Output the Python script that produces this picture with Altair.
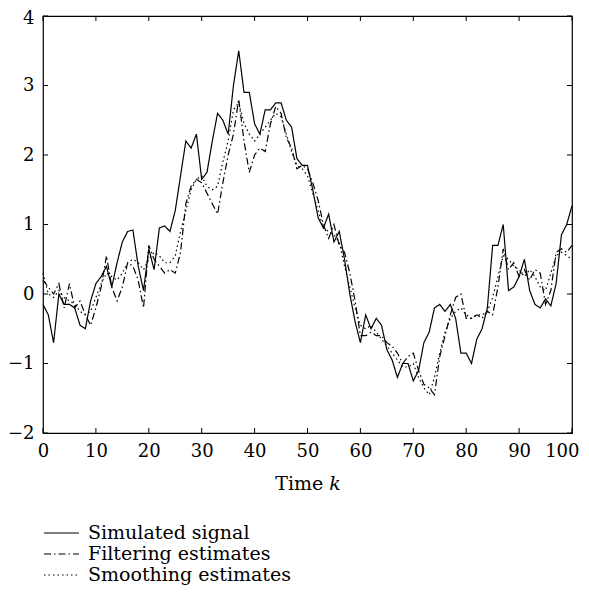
import altair as alt
import pandas as pd

k = list(range(101))

signal = [-0.15, -0.3, -0.7, 0.0, -0.15, -0.15, -0.2, -0.45, -0.5, -0.1,
          0.15, 0.25, 0.4, 0.1, 0.45, 0.75, 0.9, 0.92, 0.4, 0.05,
          0.65, 0.35, 0.95, 0.98, 0.9, 1.2, 1.7, 2.2, 2.1, 2.3,
          1.65, 1.75, 2.2, 2.6, 2.5, 2.3, 3.0, 3.5, 2.9, 2.9,
          2.45, 2.3, 2.65, 2.65, 2.75, 2.75, 2.5, 2.4, 1.95, 1.85,
          1.85, 1.5, 1.1, 0.95, 1.15, 0.75, 0.9, 0.5, 0.0, -0.4,
          -0.7, -0.3, -0.5, -0.35, -0.45, -0.8, -0.95, -1.2, -1.0, -1.0,
          -1.25, -1.1, -0.7, -0.55, -0.2, -0.15, -0.25, -0.15, -0.35, -0.85,
          -0.85, -1.0, -0.65, -0.5, -0.2, 0.7, 0.7, 1.0, 0.05, 0.1,
          0.25, 0.5, 0.05, -0.15, -0.2, -0.07, -0.17, 0.15, 0.85, 1.0, 1.27]

filtering = [0.2, 0.1, 0.0, 0.15, -0.2, 0.15, -0.2, -0.1, -0.3, -0.45,
             -0.2, 0.1, 0.55, 0.1, -0.1, 0.1, 0.45, 0.4, 0.2, -0.2,
             0.7, 0.5, 0.4, 0.3, 0.35, 0.3, 0.6, 1.3, 1.55, 1.65,
             1.6, 1.45, 1.3, 1.15, 1.6, 2.0, 2.3, 2.8, 2.2, 1.75,
             2.0, 2.1, 2.05, 2.45, 2.7, 2.6, 2.25, 2.1, 1.8, 1.85,
             1.8, 1.6, 1.35, 1.0, 0.8, 1.0, 0.7, 0.6, 0.3, -0.1,
             -0.6, -0.6, -0.55, -0.6, -0.6, -0.7, -0.75, -0.85, -1.0, -0.9,
             -0.85, -1.1, -1.3, -1.35, -1.45, -0.9, -0.6, -0.3, -0.05, 0.0,
             -0.35, -0.35, -0.3, -0.35, -0.25, -0.3, 0.1, 0.65, 0.35, 0.45,
             0.25, 0.35, 0.2, 0.35, 0.3, -0.15, 0.05, 0.6, 0.65, 0.6, 0.7]

smoothing = [0.3, 0.0, -0.05, 0.05, -0.05, -0.1, -0.15, -0.25, -0.3, -0.25,
             -0.05, 0.15, 0.3, 0.25, 0.2, 0.3, 0.45, 0.5, 0.45, 0.35,
             0.5, 0.6, 0.55, 0.45, 0.45, 0.55, 0.9, 1.2, 1.5, 1.65,
             1.7, 1.55, 1.5, 1.55, 1.9, 2.2, 2.65, 2.75, 2.45, 2.3,
             2.2, 2.3, 2.4, 2.5, 2.6, 2.55, 2.3, 2.05, 1.85, 1.8,
             1.7, 1.45, 1.2, 0.95, 0.9, 0.85, 0.75, 0.4, 0.1, -0.2,
             -0.45, -0.5, -0.45, -0.55, -0.65, -0.75, -0.85, -0.95, -1.05, -1.05,
             -1.0, -1.2, -1.35, -1.45, -1.2, -0.85, -0.55, -0.35, -0.25, -0.2,
             -0.3, -0.35, -0.3, -0.3, -0.25, -0.05, 0.25, 0.55, 0.5, 0.4,
             0.35, 0.25, 0.35, 0.25, 0.1, 0.05, 0.3, 0.55, 0.6, 0.55, 0.5]

series_names = ["Simulated signal", "Filtering estimates", "Smoothing estimates"]
x_ticks = [0, 10, 20, 30, 40, 50, 60, 70, 80, 90, 100]
y_ticks = [-2, -1, 0, 1, 2, 3, 4]

FONT = "DejaVu Serif"
FS = 19
TICK_FS = 18

rows = []
for name, vals in zip(series_names, [signal, filtering, smoothing]):
    for kk, v in zip(k, vals):
        rows.append({"k": kk, "value": v, "series": name})
df = pd.DataFrame(rows)

xs = alt.Scale(domain=[0, 100], nice=False, zero=False)
ys = alt.Scale(domain=[-2, 4], nice=False, zero=False)

last_label_align = {"condition": {"test": "datum.value == 100", "value": "right"}, "value": "center"}
last_label_offset = {"condition": {"test": "datum.value == 100", "value": 7}, "value": 0}
top_label_offset = {"condition": {"test": "datum.value == 4", "value": 2}, "value": 0}

lines = alt.Chart(df).mark_line(color="black", strokeWidth=1.2).encode(
    x=alt.X("k:Q", scale=xs,
            axis=alt.Axis(values=x_ticks, format="d", title="Time 𝑘", tickSize=0, domain=False,
                          grid=False, labelPadding=9, titlePadding=14, labelFlush=False,
                          labelAlign=last_label_align, labelOffset=last_label_offset)),
    y=alt.Y("value:Q", scale=ys,
            axis=alt.Axis(values=y_ticks, format="d", title=None, tickSize=0, domain=False,
                          grid=False, labelPadding=9, labelFlush=False,
                          labelOffset=top_label_offset)),
    strokeDash=alt.StrokeDash(
        "series:N",
        scale=alt.Scale(domain=series_names, range=[[1, 0], [7, 3, 1.5, 3], [1.5, 3]]),
        sort=series_names,
        legend=alt.Legend(title=None, orient="none", legendX=0, legendY=508,
                          symbolType="stroke", symbolSize=1225, symbolStrokeWidth=1.2,
                          symbolStrokeColor="black", clipHeight=18, rowPadding=2,
                          labelFont=FONT, labelFontSize=FS, labelColor="black",
                          labelOffset=8, labelLimit=400, padding=0),
    ),
    order="k:Q",
)

tdx = pd.DataFrame({"t": x_ticks})
tdy = pd.DataFrame({"t": y_ticks})

bottom = alt.Chart(tdx).transform_calculate(y0="-2", y1="-2 + 0.072").mark_rule(
    color="black", strokeWidth=1).encode(x=alt.X("t:Q", scale=xs), y=alt.Y("y0:Q", scale=ys), y2="y1:Q")
top = alt.Chart(tdx).transform_calculate(y0="4", y1="4 - 0.072").mark_rule(
    color="black", strokeWidth=1).encode(x=alt.X("t:Q", scale=xs), y=alt.Y("y0:Q", scale=ys), y2="y1:Q")
left = alt.Chart(tdy).transform_calculate(x0="0", x1="0.95").mark_rule(
    color="black", strokeWidth=1).encode(y=alt.Y("t:Q", scale=ys), x=alt.X("x0:Q", scale=xs), x2="x1:Q")
right = alt.Chart(tdy).transform_calculate(x0="100", x1="100 - 0.95").mark_rule(
    color="black", strokeWidth=1).encode(y=alt.Y("t:Q", scale=ys), x=alt.X("x0:Q", scale=xs), x2="x1:Q")

chart = alt.layer(lines, bottom, top, left, right).properties(
    width=529, height=417,
    background="white",
    autosize=alt.AutoSizeParams(type="none"),
    padding={"left": 35, "top": 8, "right": 8, "bottom": 155},
).configure_view(stroke="black", strokeWidth=1.2).configure_axis(
    labelFont=FONT, labelFontSize=TICK_FS, labelColor="black",
    titleFont=FONT, titleFontSize=FS, titleColor="black", titleFontWeight="normal",
)

chart.save("out.html", embed_options={"renderer": "svg", "actions": False})
